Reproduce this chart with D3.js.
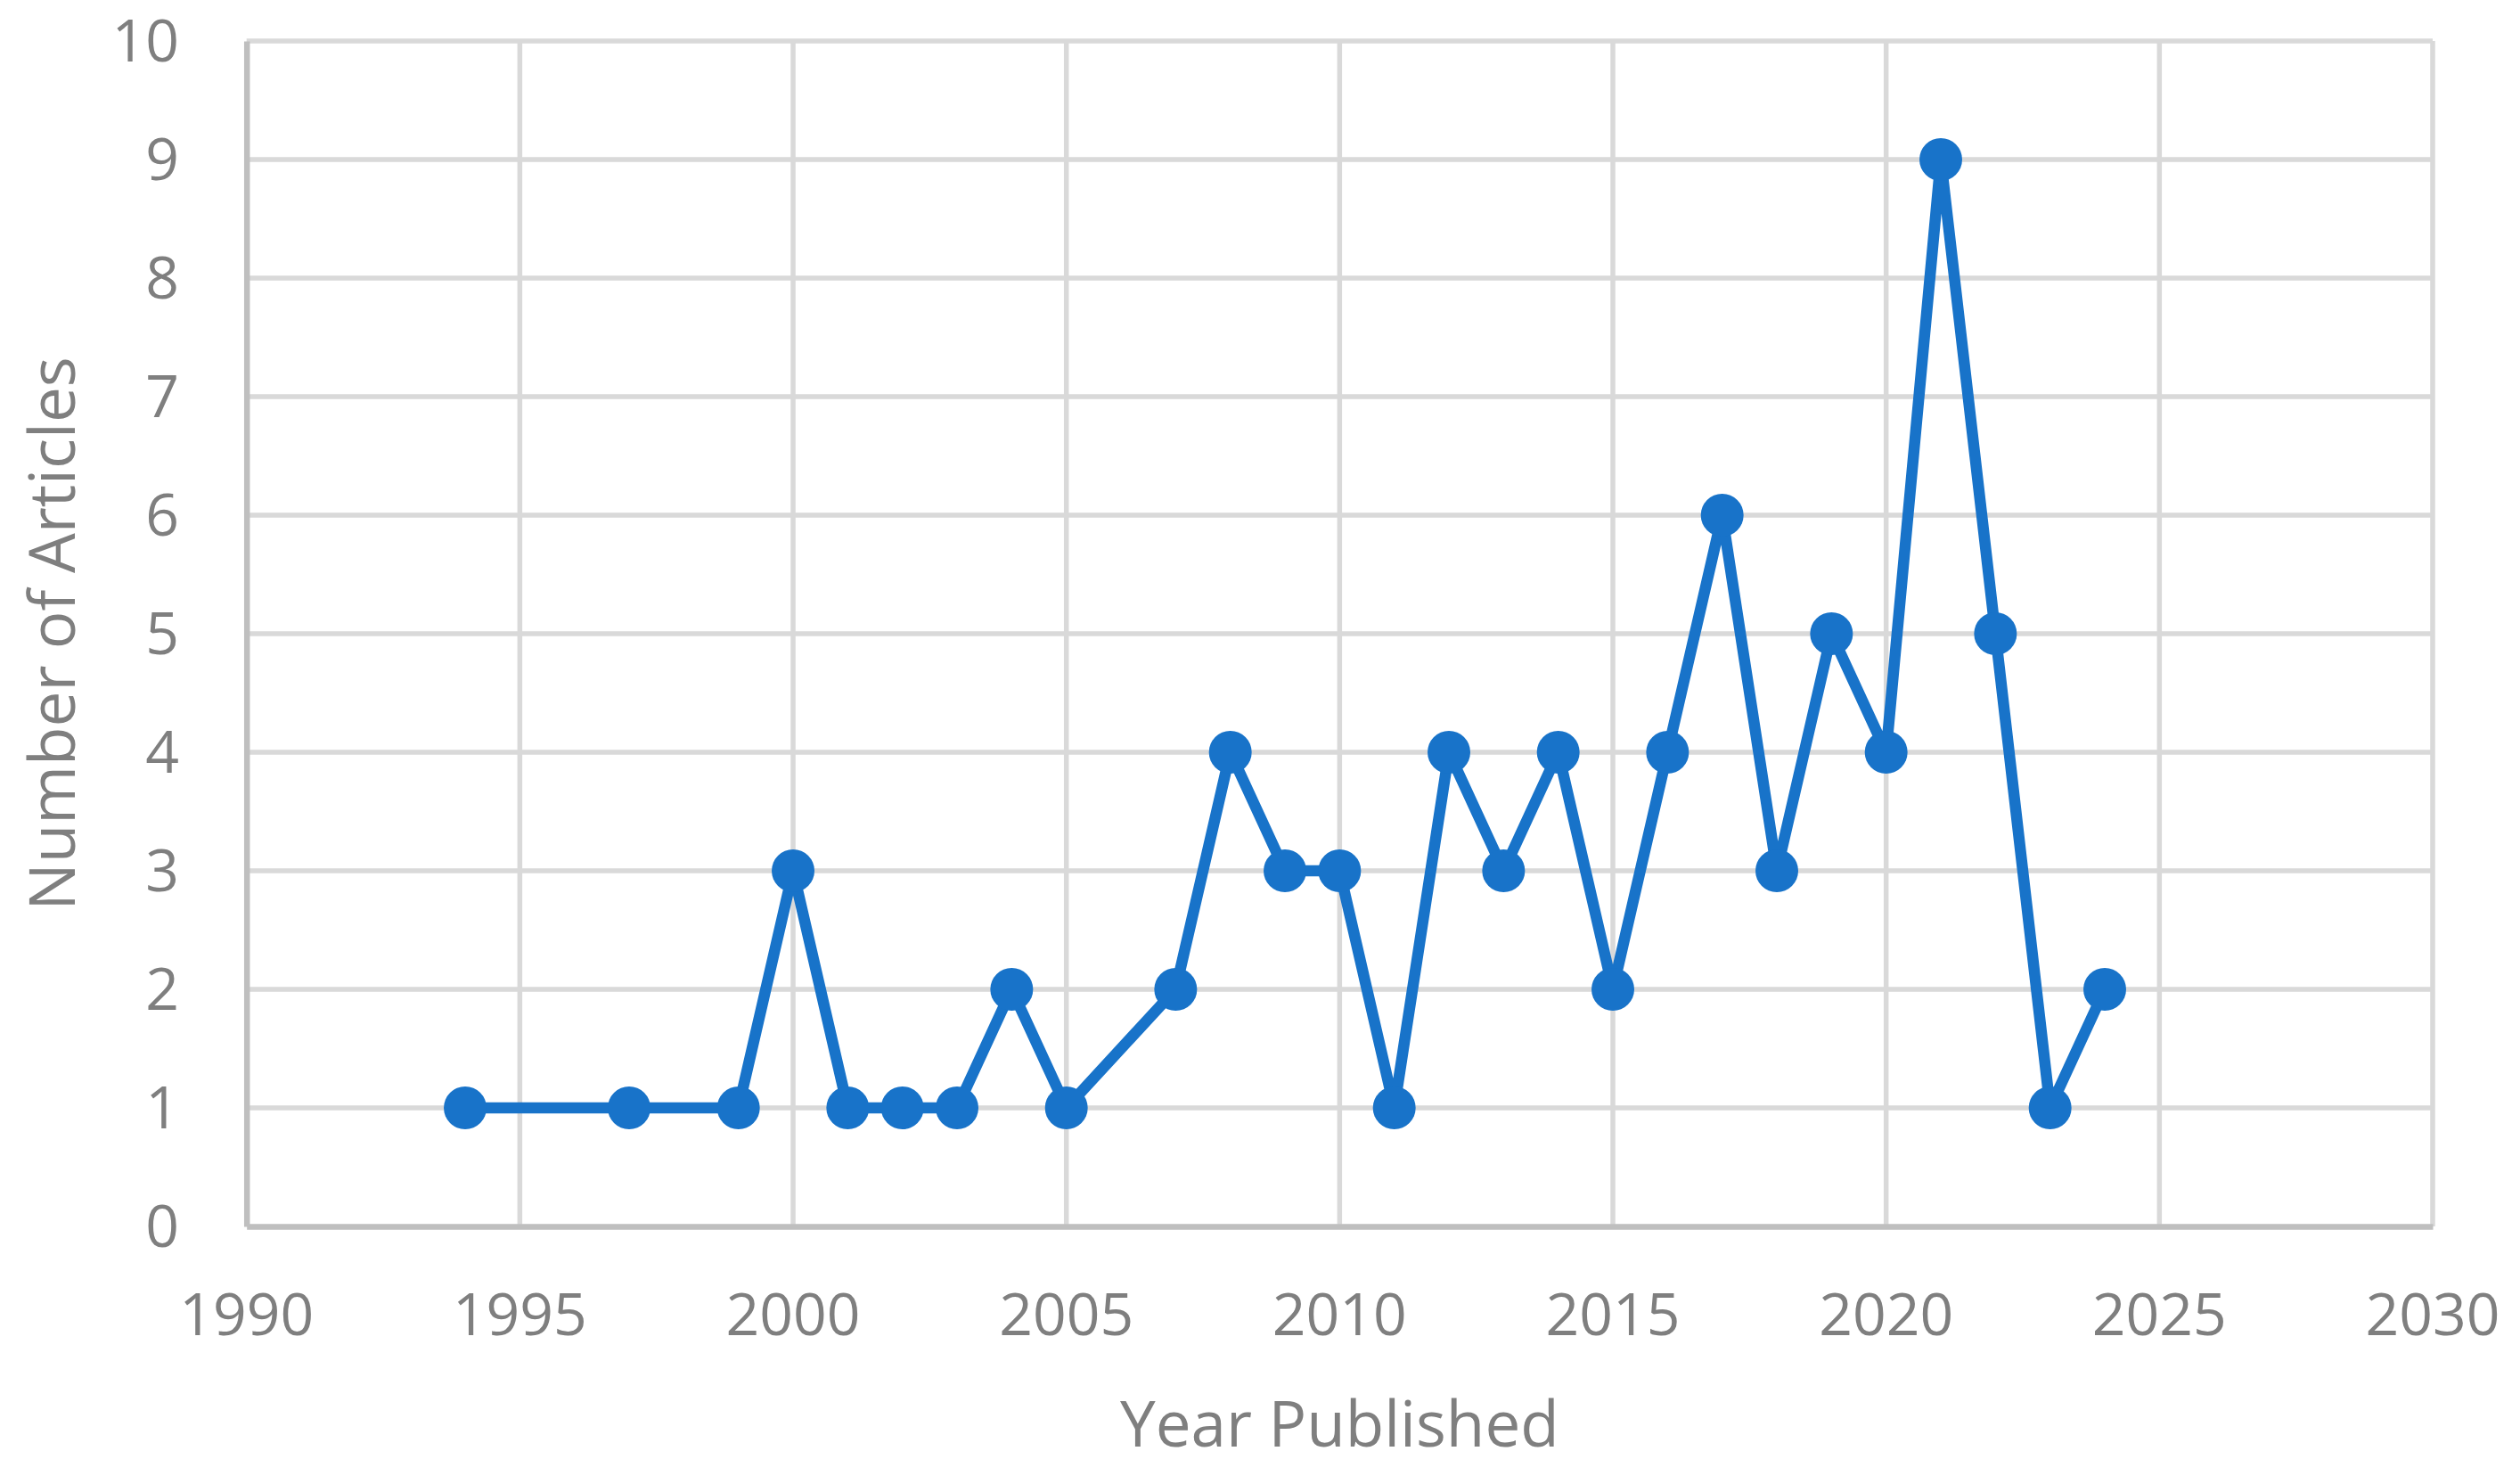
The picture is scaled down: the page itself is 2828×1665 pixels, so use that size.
<!DOCTYPE html>
<html>
<head>
<meta charset="utf-8">
<script src="https://cdn.jsdelivr.net/npm/d3@7"></script>
<style>
  body { margin: 0; background: #fff; }
  text { font-family: 'Open Sans', sans-serif; fill: #7f7f7f; }
</style>
</head>
<body>
<div id="chart"></div>
<script>
// data
const years = [1994, 1997, 1999, 2000, 2001, 2002, 2003, 2004, 2005, 2007, 2008, 2009, 2010,
  2011, 2012, 2013, 2014, 2015, 2016, 2017, 2018, 2019, 2020, 2021, 2022, 2023, 2024];
const articles = [1, 1, 1, 3, 1, 1, 1, 2, 1, 2, 4, 3, 3,
  1, 4, 3, 4, 2, 4, 6, 3, 5, 4, 9, 5, 1, 2];
const xTicks = [1990, 1995, 2000, 2005, 2010, 2015, 2020, 2025, 2030];
const yTicks = [0, 1, 2, 3, 4, 5, 6, 7, 8, 9, 10];

const data = years.map((year, i) => ({ year, n: articles[i] }));

// Create canvas
const width = 2828;
const height = 1665;

const svg = d3.select('#chart')
  .append('svg')
  .attr('width', width)
  .attr('height', height);

const xScale = d3.scaleLinear().domain([1990, 2030]).range([276.7, 2730]);
const yScale = d3.scaleLinear().domain([0, 10]).range([1376, 46]);

// gridlines
svg.append('g')
  .selectAll('line')
  .data(yTicks.filter((d) => d > 0))
  .enter()
  .append('line')
  .attr('x1', xScale(1990))
  .attr('x2', xScale(2030))
  .attr('y1', (d) => yScale(d))
  .attr('y2', (d) => yScale(d))
  .attr('stroke', '#d9d9d9')
  .attr('stroke-width', 5.5);

svg.append('g')
  .selectAll('line')
  .data(xTicks.filter((d) => d > 1990))
  .enter()
  .append('line')
  .attr('x1', (d) => xScale(d))
  .attr('x2', (d) => xScale(d))
  .attr('y1', yScale(10))
  .attr('y2', yScale(0))
  .attr('stroke', '#d9d9d9')
  .attr('stroke-width', 5.5);

// Axes (lines drawn by d3 axis, tick labels added separately)
const xAxis = svg.append('g')
  .attr('transform', `translate(0, ${yScale(0)})`)
  .call(d3.axisBottom(xScale).tickValues(xTicks).tickSize(0).tickFormat(''));
xAxis.select('.domain').attr('stroke', '#bfbfbf').attr('stroke-width', 6.5);

const yAxis = svg.append('g')
  .attr('transform', `translate(${xScale(1990)}, 0)`)
  .call(d3.axisLeft(yScale).tickValues(yTicks).tickSize(0).tickFormat(''));
yAxis.select('.domain').attr('stroke', '#bfbfbf').attr('stroke-width', 6.5);

// tick labels
svg.append('g')
  .selectAll('text')
  .data(xTicks)
  .enter()
  .append('text')
  .attr('x', (d) => xScale(d))
  .attr('y', 1498)
  .attr('text-anchor', 'middle')
  .attr('font-size', 66)
  .text((d) => d);

svg.append('g')
  .selectAll('text')
  .data(yTicks)
  .enter()
  .append('text')
  .attr('x', 201)
  .attr('y', (d) => yScale(d) + 23)
  .attr('text-anchor', 'end')
  .attr('font-size', 66)
  .text((d) => d);

// axis titles
svg.append('text')
  .attr('x', (xScale(1990) + xScale(2030)) / 2)
  .attr('y', 1623)
  .attr('text-anchor', 'middle')
  .attr('font-size', 71)
  .text('Year Published');

svg.append('text')
  .attr('transform', `translate(84, ${(yScale(0) + yScale(10)) / 2}) rotate(-90)`)
  .attr('text-anchor', 'middle')
  .attr('font-size', 71)
  .text('Number of Articles');

// line + markers
const line = d3.line()
  .x((d) => xScale(d.year))
  .y((d) => yScale(d.n));

svg.append('path')
  .datum(data)
  .attr('d', line)
  .attr('fill', 'none')
  .attr('stroke', '#1873c9')
  .attr('stroke-width', 12.5)
  .attr('stroke-linejoin', 'round');

svg.append('g')
  .selectAll('circle')
  .data(data)
  .enter()
  .append('circle')
  .attr('cx', (d) => xScale(d.year))
  .attr('cy', (d) => yScale(d.n))
  .attr('r', 24)
  .attr('fill', '#1873c9');
</script>
</body>
</html>
